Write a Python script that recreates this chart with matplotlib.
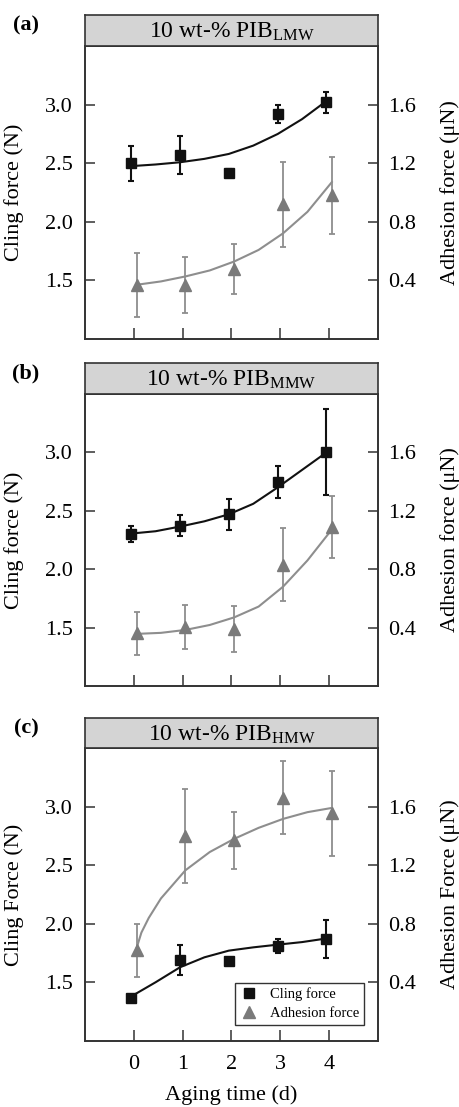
import matplotlib
matplotlib.use("Agg")
import matplotlib.pyplot as plt
from matplotlib.lines import Line2D

plt.rcParams['font.family'] = ['Liberation Serif', 'DejaVu Serif']
plt.rcParams['mathtext.fontset'] = 'custom'
plt.rcParams['mathtext.rm'] = 'Liberation Serif'
plt.rcParams['mathtext.it'] = 'Liberation Serif:italic'

# ---------------- data ----------------
days = [0, 1, 2, 3, 4]

titles = ["10 wt-% PIB$_{\\mathrm{LMW}}$",
          "10 wt-% PIB$_{\\mathrm{MMW}}$",
          "10 wt-% PIB$_{\\mathrm{HMW}}$"]
panel_labels = ["(a)", "(b)", "(c)"]
left_labels = ["Cling force (N)", "Cling force (N)", "Cling Force (N)"]
right_labels = ["Adhesion force (\u03bcN)", "Adhesion force (\u03bcN)", "Adhesion Force (\u03bcN)"]
x_label = "Aging time (d)"
legend_labels = ["Cling force", "Adhesion force"]

cling_a = [2.50, 2.57, 2.42, 2.92, 3.02]
cling_a_err = [0.15, 0.16, 0.03, 0.08, 0.09]
adh_a = [0.37, 0.37, 0.48, 0.92, 0.98]
adh_a_err = [0.22, 0.19, 0.17, 0.29, 0.26]

cling_b = [2.30, 2.37, 2.47, 2.745, 3.005]
cling_b_err = [0.07, 0.09, 0.135, 0.135, 0.37]
adh_b = [0.36, 0.405, 0.39, 0.83, 1.09]
adh_b_err = [0.15, 0.15, 0.16, 0.25, 0.21]

cling_c = [1.37, 1.69, 1.685, 1.81, 1.87]
cling_c_err = [0.02, 0.13, 0.015, 0.06, 0.16]
adh_c = [0.62, 1.40, 1.37, 1.66, 1.555]
adh_c_err = [0.18, 0.32, 0.195, 0.25, 0.29]

# fitted trend curves
fit_x = [0, 0.5, 1, 1.5, 2, 2.5, 3, 3.5, 4]
fit_cling_a = [2.475, 2.489, 2.508, 2.537, 2.579, 2.65, 2.749, 2.876, 3.031]
fit_adh_a = [0.37, 0.393, 0.427, 0.468, 0.529, 0.608, 0.721, 0.868, 1.071]
fit_cling_b = [2.305, 2.325, 2.365, 2.41, 2.47, 2.56, 2.70, 2.85, 3.00]
fit_adh_b = [0.357, 0.364, 0.384, 0.418, 0.470, 0.544, 0.680, 0.860, 1.072]
fit_cling_c = [1.380, 1.501, 1.629, 1.714, 1.771, 1.799, 1.822, 1.844, 1.875]
fit_adh_c_x = [0, 0.1, 0.25, 0.5, 1, 1.5, 2, 2.5, 3, 3.5, 4]
fit_adh_c = [0.633, 0.74, 0.84, 0.973, 1.165, 1.29, 1.38, 1.455, 1.516, 1.562, 1.591]

panels = [
    (cling_a, cling_a_err, adh_a, adh_a_err, fit_x, fit_cling_a, fit_x, fit_adh_a),
    (cling_b, cling_b_err, adh_b, adh_b_err, fit_x, fit_cling_b, fit_x, fit_adh_b),
    (cling_c, cling_c_err, adh_c, adh_c_err, fit_x, fit_cling_c, fit_adh_c_x, fit_adh_c),
]

left_ticks = [1.5, 2.0, 2.5, 3.0]
right_ticks = [0.4, 0.8, 1.2, 1.6]

# ---------------- layout ----------------
W, H = 459, 1107
fig = plt.figure(figsize=(W / 100, H / 100), dpi=100)


def rect(x0, y0, x1, y1):
    return [x0 / W, 1 - y1 / H, (x1 - x0) / W, (y1 - y0) / H]


plot_boxes = [(85, 46, 378, 339), (85, 394, 378, 686), (85, 748, 378, 1041)]
title_boxes = [(85, 15, 378, 46), (85, 363, 378, 394), (85, 718, 378, 748)]

frame_col = '#333333'
black = '#111111'
gray_pt = '#7a7a7a'
gray_ln = '#8e8e8e'
off = 0.055
FS = 16

for i, (cl, cle, ad, ade, fxc, fyc, fxa, fya) in enumerate(panels):
    ax = fig.add_axes(rect(*plot_boxes[i]))
    ax2 = ax.twinx()

    # title box
    axt = fig.add_axes(rect(*title_boxes[i]))
    axt.set_facecolor('#d4d4d4')
    axt.set_xticks([])
    axt.set_yticks([])
    for s in axt.spines.values():
        s.set_color(frame_col)
        s.set_linewidth(1.2)
    axt.text(0.5, 0.45, titles[i], ha='center', va='center', fontsize=17,
             transform=axt.transAxes)

    fig.text(26 / W, 1 - (title_boxes[i][1] + 10) / H, panel_labels[i],
             fontsize=16, fontweight='bold', ha='center', va='center')

    # cling force (left axis)
    ax.plot([x - off for x in fxc], fyc, color=black, lw=1.5, zorder=2)
    ax.errorbar([d - off for d in days], cl, yerr=cle, fmt='s', color=black,
                ms=6.8, elinewidth=1.5, capsize=2.5, capthick=1.5, zorder=3)

    # adhesion force (right axis)
    ax2.plot([x + off for x in fxa], fya, color=gray_ln, lw=1.5, zorder=2)
    ax2.errorbar([d + off for d in days], ad, yerr=ade, fmt='^', color=gray_pt,
                 ecolor=gray_ln, ms=8.5, elinewidth=1.3, capsize=2.5,
                 capthick=1.3, zorder=3)

    ax.set_xlim(-1, 5)
    ax.set_ylim(1.0, 3.5)
    ax2.set_ylim(0.0, 2.0)
    ax.set_xticks(days)
    ax.set_yticks(left_ticks)
    ax.set_yticklabels(["%.1f" % v for v in left_ticks])
    ax2.set_yticks(right_ticks)
    ax2.set_yticklabels(["%.1f" % v for v in right_ticks])

    ax.tick_params(axis='y', direction='in', length=7, width=1.1,
                   color=frame_col, pad=9, labelsize=FS)
    ax2.tick_params(axis='y', direction='in', length=7, width=1.1,
                    color=frame_col, pad=7, labelsize=FS)
    ax.tick_params(axis='x', direction='in', length=8, width=1.1,
                   color=frame_col, pad=10, labelsize=FS,
                   labelbottom=(i == 2))
    for a in (ax, ax2):
        for s in a.spines.values():
            s.set_color(frame_col)
            s.set_linewidth(1.2)

    ax.set_ylabel(left_labels[i], fontsize=FS)
    ax.yaxis.set_label_coords(-0.208, 0.5)
    ax2.set_ylabel(right_labels[i], fontsize=FS)
    ax2.yaxis.set_label_coords(1.212, 0.5)

    if i == 2:
        ax.set_xlabel(x_label, fontsize=FS, va='center')
        ax.xaxis.set_label_coords(0.5, -0.186)
        handles = [Line2D([], [], ls='none', marker='s', color=black, ms=6.8),
                   Line2D([], [], ls='none', marker='^', color=gray_pt, ms=8.5)]
        leg = ax2.legend(handles, legend_labels, loc='lower right',
                         bbox_to_anchor=(0.952, 0.055), borderaxespad=0,
                         fontsize=10.5, frameon=True, fancybox=False,
                         edgecolor=frame_col, framealpha=1, handlelength=1.2,
                         handletextpad=0.8, borderpad=0.35, labelspacing=0.35)
        leg.get_frame().set_linewidth(1.0)

fig.savefig("out.png", dpi=100)
